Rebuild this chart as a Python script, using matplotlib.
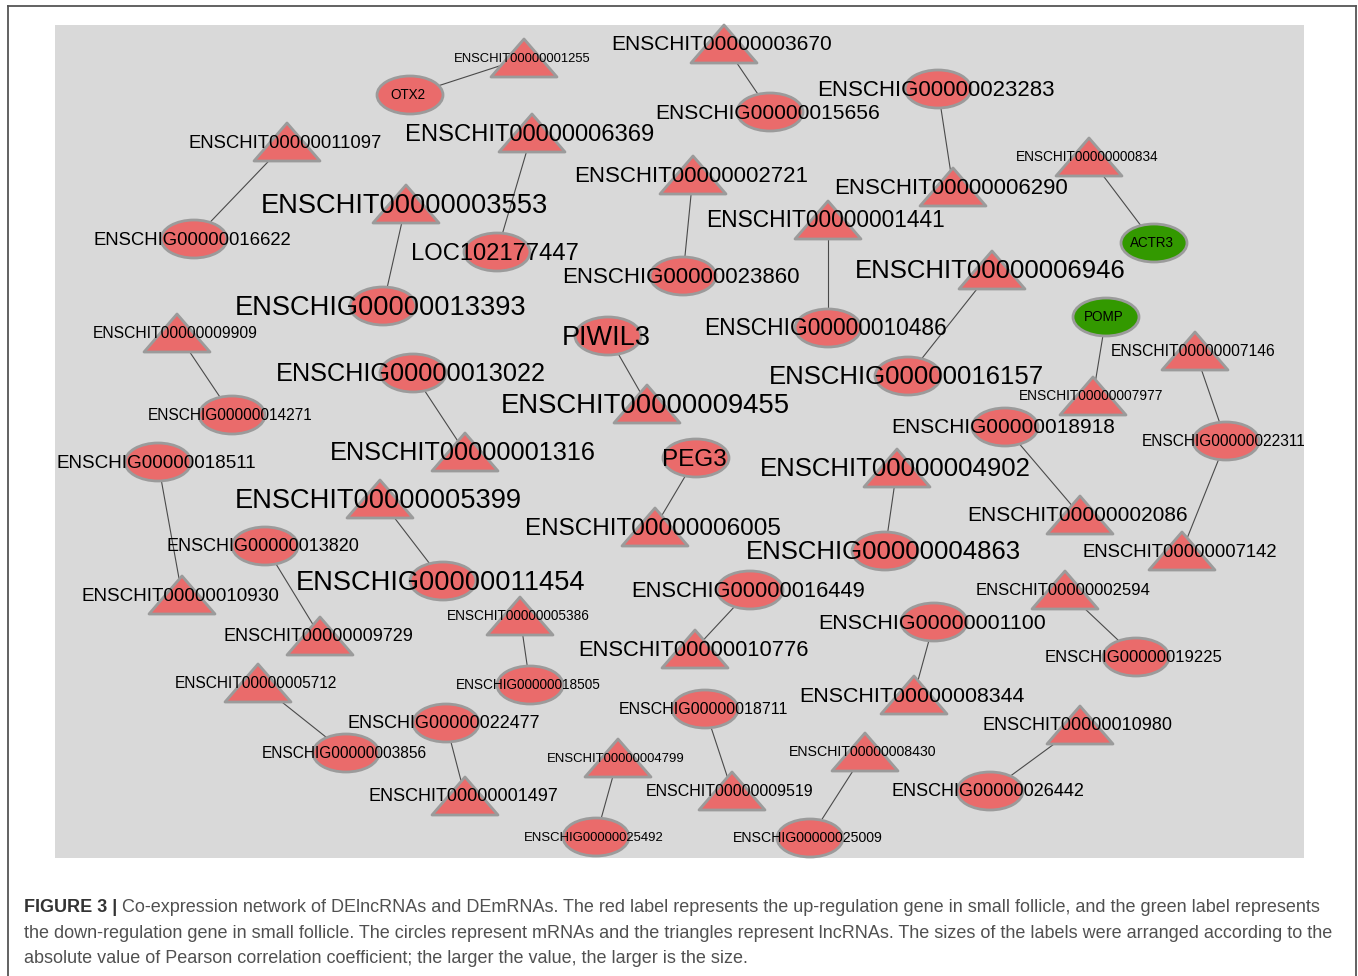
import matplotlib
matplotlib.use('Agg')
import matplotlib.pyplot as plt
from matplotlib.patches import Ellipse, Polygon, Rectangle
from matplotlib.lines import Line2D

W, H, DPI = 1358, 976, 100

# ---------------- data ----------------
node_names = [
    "ENSCHIT00000001255", "OTX2", "ENSCHIT00000003670", "ENSCHIG00000015656",
    "ENSCHIG00000023283", "ENSCHIT00000006290", "ENSCHIT00000000834", "ACTR3",
    "ENSCHIT00000011097", "ENSCHIG00000016622", "ENSCHIT00000006369", "LOC102177447",
    "ENSCHIT00000003553", "ENSCHIG00000013393", "ENSCHIT00000002721", "ENSCHIG00000023860",
    "ENSCHIT00000001441", "ENSCHIG00000010486", "ENSCHIT00000006946", "ENSCHIG00000016157",
    "POMP", "ENSCHIT00000007977", "ENSCHIT00000007146", "ENSCHIG00000022311",
    "ENSCHIT00000007142", "ENSCHIT00000009909", "ENSCHIG00000014271", "ENSCHIG00000013022",
    "ENSCHIT00000001316", "PIWIL3", "ENSCHIT00000009455", "ENSCHIG00000018511",
    "ENSCHIT00000010930", "ENSCHIT00000005399", "ENSCHIG00000011454", "ENSCHIG00000013820",
    "ENSCHIT00000009729", "PEG3", "ENSCHIT00000006005", "ENSCHIT00000004902",
    "ENSCHIG00000004863", "ENSCHIG00000018918", "ENSCHIT00000002086", "ENSCHIT00000005386",
    "ENSCHIG00000018505", "ENSCHIG00000016449", "ENSCHIT00000010776", "ENSCHIT00000002594",
    "ENSCHIG00000019225", "ENSCHIG00000001100", "ENSCHIT00000008344", "ENSCHIT00000005712",
    "ENSCHIG00000003856", "ENSCHIG00000022477", "ENSCHIT00000001497", "ENSCHIG00000018711",
    "ENSCHIT00000009519", "ENSCHIT00000004799", "ENSCHIG00000025492", "ENSCHIT00000008430",
    "ENSCHIG00000025009", "ENSCHIT00000010980", "ENSCHIG00000026442",
]
# molecule type: lnc = lncRNA (triangle), m = mRNA (ellipse)
node_type = [
    "lnc", "m", "lnc", "m", "m", "lnc", "lnc", "m",
    "lnc", "m", "lnc", "m", "lnc", "m", "lnc", "m",
    "lnc", "m", "lnc", "m", "m", "lnc", "lnc", "m",
    "lnc", "lnc", "m", "m", "lnc", "m", "lnc", "m",
    "lnc", "lnc", "m", "m", "lnc", "m", "lnc", "lnc",
    "m", "m", "lnc", "lnc", "m", "m", "lnc", "lnc",
    "m", "m", "lnc", "lnc", "m", "m", "lnc", "m",
    "lnc", "lnc", "m", "lnc", "m", "lnc", "m",
]
down_regulated = ["ACTR3", "POMP"]
# network layout (Cytoscape canvas position)
node_x = [524, 410, 724, 770, 938, 953, 1089, 1154, 287, 194, 532, 497, 406, 383, 693, 683,
          828, 828, 992, 908, 1106, 1093, 1195, 1226, 1182, 177, 232, 413, 465, 608, 647, 158,
          182, 380, 443, 265, 320, 696, 655, 897, 885, 1005, 1080, 520, 530, 750, 695, 1065,
          1136, 934, 914, 258, 346, 446, 465, 705, 732, 618, 596, 865, 810, 1080, 990]
node_y = [58, 95, 44, 112, 89, 187, 157, 243, 142, 239, 133, 252, 204, 306, 175, 276,
          220, 328, 270, 376, 317, 396, 351, 441, 551, 333, 415, 373, 452, 336, 404, 462,
          595, 499, 581, 546, 636, 458, 527, 468, 551, 427, 515, 616, 685, 590, 649, 590,
          657, 622, 695, 683, 753, 723, 796, 709, 791, 758, 837, 752, 838, 725, 791]
# label size (px) ~ |Pearson r|
label_px = [13.0, 13.5, 20.9, 21.0, 22.3, 22.3, 13.6, 13.5, 18.5, 18.5, 23.8, 23.8, 27.2, 27.2,
            22.3, 22.3, 22.8, 22.8, 25.8, 25.8, 13.5, 13.7, 15.6, 15.5, 18.5, 15.6, 15.5, 25.2,
            25.2, 27.1, 27.5, 18.9, 18.9, 27.2, 27.2, 18.0, 18.0, 24.3, 24.3, 25.8, 25.8, 20.9,
            20.9, 13.6, 13.6, 21.9, 21.9, 16.6, 16.6, 21.4, 21.4, 15.5, 15.5, 18.0, 18.0, 16.0,
            16.0, 13.1, 13.1, 14.1, 14.1, 18.0, 18.0]
edge_src = ["ENSCHIT00000001255", "ENSCHIT00000003670", "ENSCHIG00000023283", "ENSCHIT00000000834",
            "ENSCHIT00000011097", "ENSCHIT00000006369", "ENSCHIT00000003553", "ENSCHIT00000002721",
            "ENSCHIT00000001441", "ENSCHIT00000006946", "POMP", "ENSCHIT00000007146",
            "ENSCHIG00000022311", "ENSCHIT00000009909", "ENSCHIG00000013022", "PIWIL3",
            "ENSCHIG00000018511", "ENSCHIT00000005399", "ENSCHIG00000013820", "PEG3",
            "ENSCHIT00000004902", "ENSCHIG00000018918", "ENSCHIT00000005386", "ENSCHIG00000016449",
            "ENSCHIT00000002594", "ENSCHIG00000001100", "ENSCHIT00000005712", "ENSCHIG00000022477",
            "ENSCHIG00000018711", "ENSCHIT00000004799", "ENSCHIT00000008430", "ENSCHIT00000010980"]
edge_dst = ["OTX2", "ENSCHIG00000015656", "ENSCHIT00000006290", "ACTR3",
            "ENSCHIG00000016622", "LOC102177447", "ENSCHIG00000013393", "ENSCHIG00000023860",
            "ENSCHIG00000010486", "ENSCHIG00000016157", "ENSCHIT00000007977", "ENSCHIG00000022311",
            "ENSCHIT00000007142", "ENSCHIG00000014271", "ENSCHIT00000001316", "ENSCHIT00000009455",
            "ENSCHIT00000010930", "ENSCHIG00000011454", "ENSCHIT00000009729", "ENSCHIT00000006005",
            "ENSCHIG00000004863", "ENSCHIT00000002086", "ENSCHIG00000018505", "ENSCHIT00000010776",
            "ENSCHIG00000019225", "ENSCHIT00000008344", "ENSCHIG00000003856", "ENSCHIT00000001497",
            "ENSCHIT00000009519", "ENSCHIG00000025492", "ENSCHIG00000025009", "ENSCHIG00000026442"]

caption_bold = "FIGURE 3 |"
caption_lines = [
    " Co-expression network of DElncRNAs and DEmRNAs. The red label represents the up-regulation gene in small follicle, and the green label represents",
    "the down-regulation gene in small follicle. The circles represent mRNAs and the triangles represent lncRNAs. The sizes of the labels were arranged according to the",
    "absolute value of Pearson correlation coefficient; the larger the value, the larger is the size.",
]

# ---------------- style ----------------
UP_COLOR = "#ea6b6b"
DOWN_COLOR = "#339900"
BORDER = "#9b9b9b"
PANEL = "#d9d9d9"
NODE_W, NODE_H = 66, 38
FONT = "Liberation Sans"
px2pt = 72.0 / DPI

fig = plt.figure(figsize=(W / DPI, H / DPI), dpi=DPI)
ax = fig.add_axes([0, 0, 1, 1])
ax.set_xlim(0, W)
ax.set_ylim(H, 0)
ax.axis("off")

# outer frame (open at bottom)
for xs, ys in [([8, 8], [6, H]), ([8, 1356], [6, 6]), ([1356, 1356], [6, H])]:
    ax.add_line(Line2D(xs, ys, color="#555555", lw=1.3, zorder=1))

# grey panel
ax.add_patch(Rectangle((55, 25), 1304 - 55, 858 - 25, facecolor=PANEL, edgecolor="none", zorder=1))

pos = {n: (x, y) for n, x, y in zip(node_names, node_x, node_y)}

for s, d in zip(edge_src, edge_dst):
    (x0, y0), (x1, y1) = pos[s], pos[d]
    ax.add_line(Line2D([x0, x1], [y0, y1], color="#4a4a4a", lw=0.8, zorder=2))

for name, t, x, y, fpx in zip(node_names, node_type, node_x, node_y, label_px):
    color = DOWN_COLOR if name in down_regulated else UP_COLOR
    if t == "m":
        patch = Ellipse((x, y), NODE_W, NODE_H, facecolor=color, edgecolor=BORDER, lw=2.0, zorder=3)
    else:
        patch = Polygon([(x - NODE_W / 2, y + NODE_H / 2), (x + NODE_W / 2, y + NODE_H / 2),
                         (x, y - NODE_H / 2)], closed=True, facecolor=color, edgecolor=BORDER,
                        lw=2.0, joinstyle="round", zorder=3)
    ax.add_patch(patch)
    ax.text(x - 2, y - 1 + 0.358 * fpx, name, fontsize=fpx * px2pt, family=FONT,
            ha="center", va="baseline", color="black", zorder=4)

# caption
renderer = fig.canvas.get_renderer()
cap_pt = 13.2
probe = ax.text(0, 0, caption_bold + caption_lines[0], fontsize=cap_pt, family=FONT)
wpx = probe.get_window_extent(renderer).width
probe.remove()
cap_pt = cap_pt * (1295.0 / wpx)

baselines = [912, 938, 963]
tb = ax.text(24, baselines[0], caption_bold, fontsize=cap_pt, family=FONT, weight="bold",
             color="#333333", va="baseline", ha="left")
bw = tb.get_window_extent(renderer).width
ax.text(24 + bw, baselines[0], caption_lines[0], fontsize=cap_pt, family=FONT,
        color="#505050", va="baseline", ha="left")
for line, b in zip(caption_lines[1:], baselines[1:]):
    ax.text(24, b, line, fontsize=cap_pt, family=FONT, color="#505050", va="baseline", ha="left")

fig.savefig("out.png", dpi=DPI, facecolor="white")
